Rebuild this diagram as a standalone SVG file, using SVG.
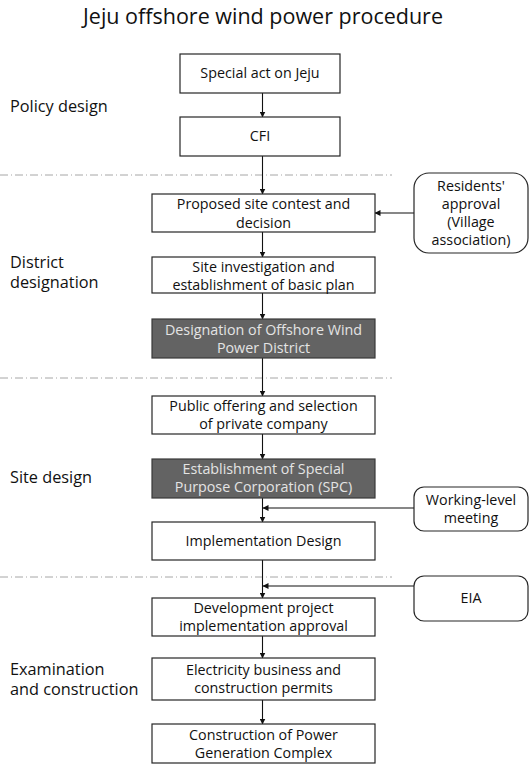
<svg xmlns="http://www.w3.org/2000/svg" width="530" height="773" viewBox="0 0 530 773">
<style>
.bg{fill:#ffffff}
.box{fill:#ffffff;stroke:#262626;stroke-width:1.2}
.dark{fill:#636363;stroke:#3a3a3a;stroke-width:1.2}
.rbox{fill:#ffffff;stroke:#262626;stroke-width:1.2}
.t{font-family:"Open Sans","Noto Sans","DejaVu Sans",sans-serif;font-size:14.3px;fill:#111111;text-anchor:middle}
.td{font-family:"Open Sans","Noto Sans","DejaVu Sans",sans-serif;font-size:14.3px;fill:#e4e4e4;text-anchor:middle}
.lab{font-family:"Open Sans","Noto Sans","DejaVu Sans",sans-serif;font-size:16.3px;fill:#111111}
.title{font-family:"Open Sans","Noto Sans","DejaVu Sans",sans-serif;font-size:21.5px;fill:#111111;text-anchor:middle}
.sep{stroke:#a6a6a6;stroke-width:1;stroke-dasharray:8 3 1 3;fill:none}
.c{stroke:#111111;stroke-width:1.1;fill:none;marker-end:url(#ah)}
</style>
<defs>
<marker id="ah" markerWidth="6" markerHeight="6" refX="5.5" refY="3" orient="auto" markerUnits="userSpaceOnUse">
<path d="M0,0 L6,3 L0,6 Z" fill="#111111"/>
</marker>
</defs>
<rect class="bg" x="0" y="0" width="530" height="773"/>
<text class="title" x="263" y="24">Jeju offshore wind power procedure</text>

<g id="labels">
<text class="lab" x="10" y="112">Policy design</text>
<text class="lab" x="10" y="268">District</text>
<text class="lab" x="10" y="288">designation</text>
<text class="lab" x="10" y="483">Site design</text>
<text class="lab" x="10" y="675">Examination</text>
<text class="lab" x="10" y="695">and construction</text>
</g>

<g id="separators">
<line class="sep" x1="0" y1="175" x2="392" y2="175"/>
<line class="sep" x1="0" y1="378" x2="392" y2="378"/>
<line class="sep" x1="0" y1="577" x2="392" y2="577"/>
</g>

<g id="connectors">
<line class="c" x1="262.5" y1="93" x2="262.5" y2="117"/>
<line class="c" x1="262.5" y1="156" x2="262.5" y2="194"/>
<line class="c" x1="262.5" y1="232" x2="262.5" y2="257"/>
<line class="c" x1="262.5" y1="293" x2="262.5" y2="319"/>
<line class="c" x1="262.5" y1="358" x2="262.5" y2="396"/>
<line class="c" x1="262.5" y1="434" x2="262.5" y2="459"/>
<line class="c" x1="262.5" y1="498" x2="262.5" y2="522"/>
<line class="c" x1="262.5" y1="560" x2="262.5" y2="598"/>
<line class="c" x1="262.5" y1="636" x2="262.5" y2="658"/>
<line class="c" x1="262.5" y1="700" x2="262.5" y2="724"/>
<line class="c" x1="414" y1="213" x2="375" y2="213"/>
<line class="c" x1="414" y1="508" x2="263" y2="508"/>
<line class="c" x1="414" y1="586" x2="263" y2="586"/>
</g>

<g id="n-special">
<rect class="box" x="180" y="54" width="160" height="39"/>
<text class="t" x="260" y="78">Special act on Jeju</text>
</g>
<g id="n-cfi">
<rect class="box" x="180" y="117" width="160" height="39"/>
<text class="t" x="260" y="141">CFI</text>
</g>
<g id="n-proposed">
<rect class="box" x="152" y="194" width="223" height="38"/>
<text class="t" x="263.5" y="209">Proposed site contest and</text>
<text class="t" x="263.5" y="228">decision</text>
</g>
<g id="n-residents">
<rect class="rbox" x="414" y="173" width="114" height="80" rx="15" ry="15"/>
<text class="t" x="471" y="191">Residents'</text>
<text class="t" x="471" y="209">approval</text>
<text class="t" x="471" y="227">(Village</text>
<text class="t" x="471" y="245">association)</text>
</g>
<g id="n-siteinv">
<rect class="box" x="152" y="257" width="223" height="36"/>
<text class="t" x="263.5" y="272">Site investigation and</text>
<text class="t" x="263.5" y="290">establishment of basic plan</text>
</g>
<g id="n-designation">
<rect class="dark" x="152" y="319" width="223" height="39"/>
<text class="td" x="263.5" y="335">Designation of Offshore Wind</text>
<text class="td" x="263.5" y="353">Power District</text>
</g>
<g id="n-public">
<rect class="box" x="152" y="396" width="223" height="38"/>
<text class="t" x="263.5" y="411">Public offering and selection</text>
<text class="t" x="263.5" y="429">of private company</text>
</g>
<g id="n-spc">
<rect class="dark" x="152" y="459" width="223" height="39"/>
<text class="td" x="263.5" y="474">Establishment of Special</text>
<text class="td" x="263.5" y="492">Purpose Corporation (SPC)</text>
</g>
<g id="n-working">
<rect class="rbox" x="414" y="487" width="114" height="44" rx="10" ry="10"/>
<text class="t" x="471" y="505">Working-level</text>
<text class="t" x="471" y="523">meeting</text>
</g>
<g id="n-impl">
<rect class="box" x="152" y="522" width="223" height="38"/>
<text class="t" x="263.5" y="546">Implementation Design</text>
</g>
<g id="n-eia">
<rect class="rbox" x="414" y="576" width="114" height="45" rx="10" ry="10"/>
<text class="t" x="471" y="603">EIA</text>
</g>
<g id="n-dev">
<rect class="box" x="152" y="598" width="223" height="38"/>
<text class="t" x="263.5" y="613">Development project</text>
<text class="t" x="263.5" y="631">implementation approval</text>
</g>
<g id="n-elec">
<rect class="box" x="152" y="658" width="223" height="42"/>
<text class="t" x="263.5" y="675">Electricity business and</text>
<text class="t" x="263.5" y="693">construction permits</text>
</g>
<g id="n-constr">
<rect class="box" x="152" y="724" width="223" height="39"/>
<text class="t" x="263.5" y="740">Construction of Power</text>
<text class="t" x="263.5" y="758">Generation Complex</text>
</g>
</svg>
